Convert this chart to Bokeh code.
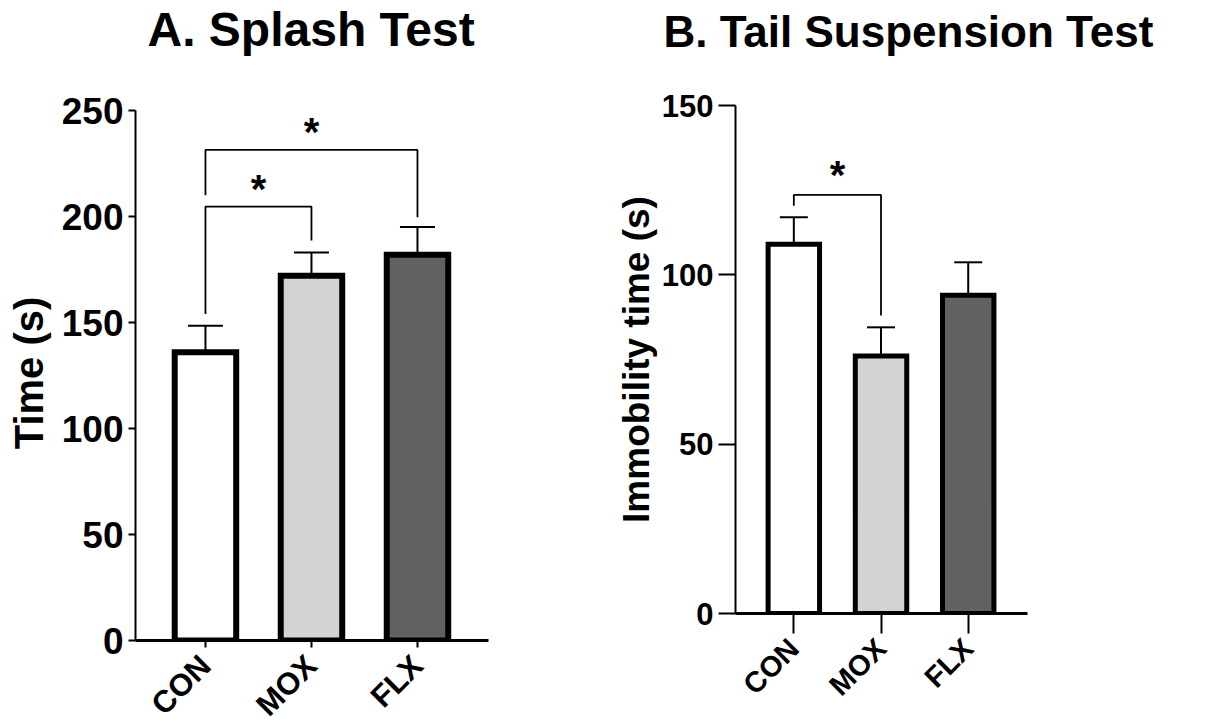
import math
from bokeh.plotting import figure
from bokeh.models import Range1d, FixedTicker, Whisker, TeeHead, ColumnDataSource, Title
from bokeh.layouts import row
from bokeh.embed import file_html
from bokeh.resources import INLINE
from bokeh.core.properties import value

# ---------------- data ----------------
cats = ["CON", "MOX", "FLX"]
positions = [1, 2, 3]
bar_colors = ["#ffffff", "#d3d3d3", "#616161"]

splash_mean = [136, 172, 182]
splash_sem = [12.5, 11, 13]
splash_ticks = [0, 50, 100, 150, 200, 250]

tst_mean = [109, 76, 94]
tst_sem = [8, 8.5, 9.7]
tst_ticks = [0, 50, 100, 150]

# significance brackets (x path, y path) and star positions
splash_br_x = [[1, 1, 2, 2], [1, 1, 3, 3]]
splash_br_y = [[154, 204.7, 204.7, 188.7], [210, 231.4, 231.4, 199.7]]
splash_star_x = [1.5, 2]
splash_star_y = [213, 240]

tst_br_x = [[1, 1, 2, 2]]
tst_br_y = [[120.4, 123.6, 123.6, 88]]
tst_star_x = [1.5]
tst_star_y = [129.5]

FONT = "Liberation Sans"


def make_panel(title, title_size, title_offset, spacer, ylabel, ylabel_size, ylabel_standoff,
               means, sems, yticks, y_end, y_bound, xr, fw, fh, bl, bt, br, bb, bar_w, bar_lw,
               ytick_out, xtick_out, ytick_size, xlabel_size, xlabel_standoff, cap,
               brx, bry, sx, sy):
    p = figure(x_range=Range1d(*xr), y_range=Range1d(0, y_end),
               frame_width=fw, frame_height=fh,
               min_border_left=bl, min_border_top=bt, min_border_right=br, min_border_bottom=bb,
               output_backend="svg", toolbar_location=None)
    p.outline_line_color = None
    p.grid.visible = False
    p.background_fill_color = "white"
    p.border_fill_color = "white"

    # empty spacer panel between frame and title, then the title itself (outermost)
    p.add_layout(Title(text=" ", text_font_size="1px", standoff=spacer), "above")
    p.add_layout(Title(text=title, text_font=FONT, text_font_size=title_size,
                       text_font_style="bold", text_color="black", align="left",
                       offset=title_offset, standoff=0), "above")

    src = ColumnDataSource(dict(x=positions, mean=means,
                                top=[m + s for m, s in zip(means, sems)],
                                color=bar_colors))
    w = Whisker(source=src, base="x", lower="mean", upper="top", dimension="height",
                line_width=2, line_color="black",
                upper_head=TeeHead(size=cap, line_width=2, line_color="black"),
                lower_head=None)
    p.add_layout(w)
    p.vbar(x="x", top="mean", bottom=0, width=bar_w, source=src, fill_color="color",
           line_color="black", line_width=bar_lw, line_join="miter")

    p.multi_line(brx, bry, line_color="black", line_width=1.8)
    p.text(sx, sy, text=["*"] * len(sx), text_font=value(FONT), text_font_style="bold",
           text_font_size="40px", text_align="center", text_baseline="middle",
           text_color="black")

    ya = p.yaxis[0]
    ya.ticker = FixedTicker(ticks=yticks)
    ya.bounds = (0, y_bound)
    ya.minor_tick_line_color = None
    ya.major_tick_in = 0
    ya.major_tick_out = ytick_out
    ya.major_tick_line_width = 2
    ya.axis_line_width = 2
    ya.major_label_text_font = FONT
    ya.major_label_text_font_size = ytick_size
    ya.major_label_text_font_style = "bold"
    ya.major_label_text_color = "black"
    ya.major_label_standoff = 5
    ya.axis_label = ylabel
    ya.axis_label_text_font = FONT
    ya.axis_label_text_font_size = ylabel_size
    ya.axis_label_text_font_style = "bold"
    ya.axis_label_text_color = "black"
    ya.axis_label_standoff = ylabel_standoff

    xa = p.xaxis[0]
    xa.ticker = FixedTicker(ticks=positions)
    xa.major_label_overrides = {k: v for k, v in zip(positions, cats)}
    xa.minor_tick_line_color = None
    xa.major_tick_in = 0
    xa.major_tick_out = xtick_out
    xa.major_tick_line_width = 2
    xa.axis_line_width = 3
    xa.major_label_orientation = math.pi / 4
    xa.major_label_text_font = FONT
    xa.major_label_text_font_size = xlabel_size
    xa.major_label_text_font_style = "bold"
    xa.major_label_text_color = "black"
    xa.major_label_standoff = xlabel_standoff
    return p


pA = make_panel("A. Splash Test", "48px", 12, 47, "Time (s)", "40px", 8, splash_mean,
                splash_sem, splash_ticks, 252.36, 250, (0.34, 3.67), 353, 535, 135, 105, 112,
                86, 0.58, 6, 7, 7, "37px", "31px", 13, 35,
                splash_br_x, splash_br_y, splash_star_x, splash_star_y)

pB = make_panel("B. Tail Suspension Test", "44px", -72, 47, "Immobility time (s)", "37px", 2,
                tst_mean, tst_sem, tst_ticks, 150, 150, (0.331, 3.68), 292, 508, 135, 105, 183,
                113, 0.59, 5, 17, 20, "31px", "29px", 10, 28,
                tst_br_x, tst_br_y, tst_star_x, tst_star_y)

layout = row(pA, pB)
open("out.html", "w").write(file_html(layout, INLINE))
